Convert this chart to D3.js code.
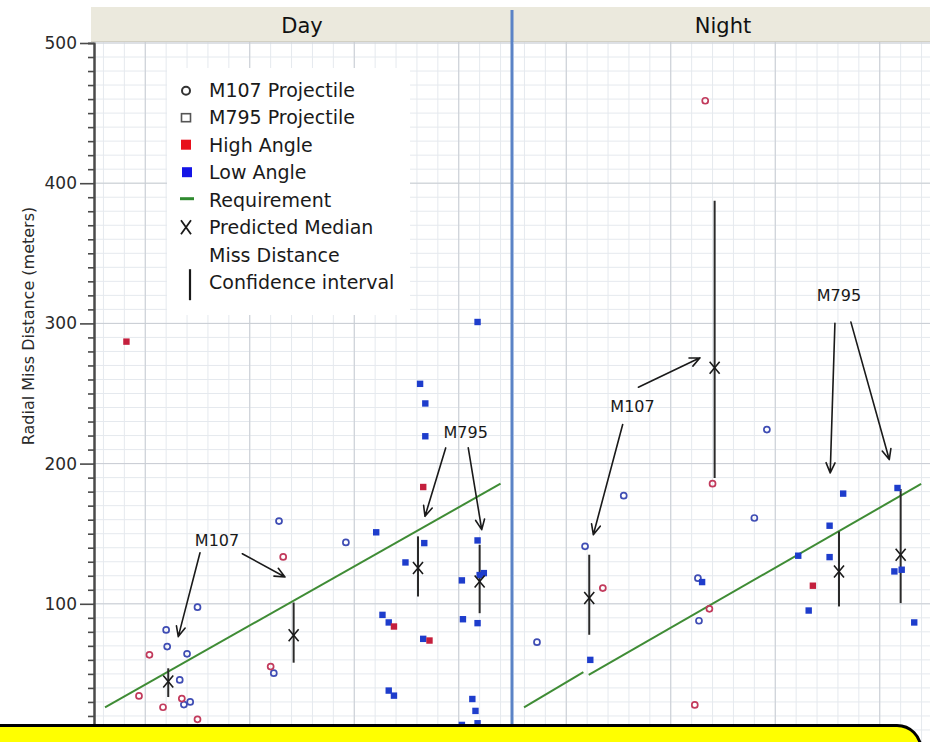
<!DOCTYPE html>
<html>
<head>
<meta charset="utf-8">
<script src="https://cdn.jsdelivr.net/npm/d3@7"></script>
<style>
  body { margin: 0; background: #fff; }
  svg { display: block; font-family: "DejaVu Sans", sans-serif; }
</style>
</head>
<body>
<svg id="chart" width="930" height="742"></svg>
<script>
// ---- data ----------------------------------------------------------------
const panels = ["Day", "Night"];
const yTicks = [100, 200, 300, 400, 500];

// M107 projectile impacts (circles): [position, radial miss distance in m]
const dayM107Low = [[2.28,159],[1.50,97.6],[1.20,81.4],[1.21,69.5],[1.40,64.3],[1.33,45.7],
                    [1.37,28.1],[1.43,30],[2.23,50.5],[2.92,143.8]];
const dayM107High = [[2.32,133.4],[1.04,63.6],[0.94,34.3],[1.17,26.2],[1.35,32.4],[1.50,17.6],[2.20,55.2]];
const nightM107Low = [[2.92,224.3],[1.55,177.1],[2.80,161.2],[1.18,141],[2.26,118.3],[2.27,87.9],[0.72,72.6]];
const nightM107High = [[2.33,458.8],[2.40,185.7],[1.35,111.2],[2.37,96.4],[2.23,27.9]];

// M795 projectile impacts (squares)
const dayM795Low = [[4.18,301],[3.63,256.9],[3.68,242.9],[3.68,219.5],[3.21,151],[3.67,143.3],
                    [3.49,129.5],[4.18,145.2],[4.03,116.7],[4.20,120.5],[4.24,121.9],[3.27,92.1],
                    [3.33,86.7],[3.66,75],[4.04,89],[4.18,86.2],[3.33,38.1],[3.38,34.5],
                    [4.13,32.1],[4.16,23.6],[4.18,14.8],[4.03,13.6]];
const dayM795High = [[0.82,287],[3.66,183.3],[3.38,83.8],[3.72,73.8]];
const nightM795Low = [[2.30,115.5],[1.23,60],[3.65,178.6],[3.52,155.7],[3.22,134.3],[3.52,133.3],
                      [3.32,95.2],[4.17,182.6],[4.14,123.1],[4.21,124.3],[4.33,86.7]];
const nightM795High = [[3.36,112.9]];

// Predicted median miss distance with confidence interval
const predX = [1.22, 2.42, 3.61, 4.20];
const dayMedian = [44.5, 77.6, 125.5, 115.9];
const dayLower  = [33.5, 58, 105.2, 93.3];
const dayUpper  = [54, 100.9, 148.1, 142.1];
const nightMedian = [104.1, 268.3, 123.1, 135];
const nightLower  = [77.9, 189.8, 98.1, 100.5];
const nightUpper  = [135, 387.4, 151.6, 181.9];

// Requirement line segments
const dayRequirement = [[[0.615, 26.2], [4.40, 185.7]]];
const nightRequirement = [[[0.596, 26.2], [1.164, 51.3]], [[1.215, 49.3], [4.396, 185.5]]];

// Call-outs: label anchor and arrows, in data units
const annotations = [
  { panel: "Day", label: "M107", at: [1.687, 140.9],
    arrows: [[[1.524, 136.4], [1.316, 76.6]], [[1.929, 135.7], [2.337, 119.1]]] },
  { panel: "Day", label: "M795", at: [4.066, 218.4],
    arrows: [[[3.875, 211.2], [3.677, 162.4]], [[4.091, 211.2], [4.220, 152.9]]] },
  { panel: "Night", label: "M107", at: [1.634, 236.6],
    arrows: [[[1.540, 227.9], [1.259, 149.3]], [[1.690, 254.5], [2.280, 275.5]]] },
  { panel: "Night", label: "M795", at: [3.61, 315.9],
    arrows: [[[3.571, 300], [3.526, 193.4]], [[3.724, 300.9], [4.091, 202.9]]] }
];

const legendItems = ["M107 Projectile", "M795 Projectile", "High Angle", "Low Angle",
                     "Requirement", "Predicted Median", "Miss Distance", "Confidence interval"];

// ---- styles ----------------------------------------------------------------
const C = {
  lowCircle: "#3f4db4", highCircle: "#c23a5c",
  lowSquare: "#1e3dcc", highSquare: "#c41f3d",
  req: "#3f8c35", ink: "#1e1e1e",
  gridMinor: "#e5e9ee", gridMajor: "#c9cdd3",
  header: "#ebe9dd", separator: "#5b83c6"
};

const svg = d3.select("#chart");
const plotTop = 42, plotBottom = 742;

const y = d3.scaleLinear().domain([0, 500]).range([744, 43]);
const xs = {
  Day: d3.scaleLinear().domain([0.5, 4.5]).range([93, 511]),
  Night: d3.scaleLinear().domain([0.5, 4.5]).range([514, 932])
};

const defs = svg.append("defs");
panels.forEach(p => {
  const [a, b] = xs[p].range();
  defs.append("clipPath").attr("id", "clip-" + p)
    .append("rect").attr("x", a).attr("y", plotTop).attr("width", b - a).attr("height", plotBottom - plotTop);
});

// ---- grid -------------------------------------------------------------------
panels.forEach(p => {
  const x = xs[p];
  const g = svg.append("g").attr("clip-path", `url(#clip-${p})`);
  const [a, b] = x.range();
  g.append("rect").attr("x", a).attr("y", plotTop).attr("width", b - a).attr("height", plotBottom - plotTop).attr("fill", "#fff");
  g.selectAll(".vmin").data(x.ticks(20)).join("line")
    .attr("x1", d => x(d)).attr("x2", d => x(d)).attr("y1", plotTop).attr("y2", plotBottom)
    .attr("stroke", C.gridMinor).attr("stroke-width", 1);
  g.selectAll(".hmin").data(y.ticks(50)).join("line")
    .attr("x1", a).attr("x2", b).attr("y1", d => y(d)).attr("y2", d => y(d))
    .attr("stroke", C.gridMinor).attr("stroke-width", 1);
  g.selectAll(".vmaj").data(x.ticks(4)).join("line")
    .attr("x1", d => x(d)).attr("x2", d => x(d)).attr("y1", plotTop).attr("y2", plotBottom)
    .attr("stroke", C.gridMajor).attr("stroke-width", 1);
  g.selectAll(".hmaj").data(yTicks).join("line")
    .attr("x1", a).attr("x2", b).attr("y1", d => y(d)).attr("y2", d => y(d))
    .attr("stroke", C.gridMajor).attr("stroke-width", 1);
});

// ---- panel headers ------------------------------------------------------------
svg.append("rect").attr("x", 91).attr("y", 7).attr("width", 845).attr("height", 34)
  .attr("fill", C.header);
svg.append("line").attr("x1", 91).attr("x2", 930).attr("y1", 41.5).attr("y2", 41.5)
  .attr("stroke", "#d2d0c4").attr("stroke-width", 1);
panels.forEach(p => {
  const [a, b] = xs[p].range();
  svg.append("text").attr("x", (a + b) / 2).attr("y", 33)
    .attr("text-anchor", "middle").attr("font-size", 21).attr("fill", "#111").text(p);
});

// ---- marks ------------------------------------------------------------------
const groups = {
  Day: { m107: [[dayM107Low, C.lowCircle], [dayM107High, C.highCircle]],
         m795: [[dayM795Low, C.lowSquare], [dayM795High, C.highSquare]],
         median: dayMedian, lower: dayLower, upper: dayUpper, req: dayRequirement },
  Night: { m107: [[nightM107Low, C.lowCircle], [nightM107High, C.highCircle]],
           m795: [[nightM795Low, C.lowSquare], [nightM795High, C.highSquare]],
           median: nightMedian, lower: nightLower, upper: nightUpper, req: nightRequirement }
};

function arrowPath(x0, y0, x1, y1) {
  const ang = Math.atan2(y1 - y0, x1 - x0);
  const len = 11, spread = 0.42;
  const p1 = [x1 - len * Math.cos(ang - spread), y1 - len * Math.sin(ang - spread)];
  const p2 = [x1 - len * Math.cos(ang + spread), y1 - len * Math.sin(ang + spread)];
  return `M${x0},${y0}L${x1},${y1}M${p1[0]},${p1[1]}L${x1},${y1}L${p2[0]},${p2[1]}`;
}

panels.forEach(p => {
  const x = xs[p];
  const G = groups[p];
  const g = svg.append("g").attr("clip-path", `url(#clip-${p})`);

  // requirement
  const line = d3.line().x(d => x(d[0])).y(d => y(d[1]));
  g.selectAll(".req").data(G.req).join("path")
    .attr("d", line).attr("fill", "none").attr("stroke", C.req).attr("stroke-width", 2);

  // confidence intervals
  g.selectAll(".ci").data(predX).join("line")
    .attr("x1", d => x(d)).attr("x2", d => x(d))
    .attr("y1", (d, i) => y(G.upper[i])).attr("y2", (d, i) => y(G.lower[i]))
    .attr("stroke", "#2a2a2a").attr("stroke-width", 2);

  // M107 circles
  G.m107.forEach(([data, col]) => {
    g.selectAll(null).data(data).join("circle")
      .attr("cx", d => x(d[0])).attr("cy", d => y(d[1])).attr("r", 3)
      .attr("fill", "none").attr("stroke", col).attr("stroke-width", 1.7);
  });
  // M795 squares
  G.m795.forEach(([data, col]) => {
    g.selectAll(null).data(data).join("rect")
      .attr("x", d => x(d[0]) - 3.2).attr("y", d => y(d[1]) - 3.2)
      .attr("width", 6.4).attr("height", 6.4).attr("fill", col);
  });

  // predicted medians
  g.selectAll(".med").data(predX).join("path")
    .attr("transform", (d, i) => `translate(${x(d)},${y(G.median[i])})`)
    .attr("d", "M-5,-6L5,6M5,-6L-5,6")
    .attr("stroke", "#1a1a1a").attr("stroke-width", 1.6).attr("fill", "none");

  // call-outs
  annotations.filter(a => a.panel === p).forEach(a => {
    g.append("text").attr("x", x(a.at[0])).attr("y", y(a.at[1]))
      .attr("text-anchor", "middle").attr("font-size", 16).attr("fill", "#1a1a1a").text(a.label);
    a.arrows.forEach(([s, e]) => {
      g.append("path").attr("d", arrowPath(x(s[0]), y(s[1]), x(e[0]), y(e[1])))
        .attr("fill", "none").attr("stroke", "#1a1a1a").attr("stroke-width", 1.6)
        .attr("stroke-linecap", "round").attr("stroke-linejoin", "round");
    });
  });
});

// ---- legend ------------------------------------------------------------------
const lg = svg.append("g");
lg.append("rect").attr("x", 167).attr("y", 68).attr("width", 243).attr("height", 247).attr("fill", "#fff");
const rowY = i => 96.7 + i * 27.5;
lg.selectAll("text").data(legendItems).join("text")
  .attr("x", 209).attr("y", (d, i) => rowY(i))
  .attr("font-size", 19).attr("fill", "#1a1a1a").text(d => d);
const sx = 186;
lg.append("circle").attr("cx", sx).attr("cy", rowY(0) - 6).attr("r", 4)
  .attr("fill", "none").attr("stroke", "#333").attr("stroke-width", 2);
lg.append("rect").attr("x", sx - 4.5).attr("y", rowY(1) - 10.5).attr("width", 9).attr("height", 8)
  .attr("fill", "none").attr("stroke", "#555").attr("stroke-width", 1.6);
lg.append("rect").attr("x", sx - 5).attr("y", rowY(2) - 12).attr("width", 10).attr("height", 10)
  .attr("fill", "#e8101c");
lg.append("rect").attr("x", sx - 4).attr("y", rowY(3) - 12).attr("width", 10).attr("height", 10)
  .attr("fill", "#1414e6");
lg.append("line").attr("x1", sx - 6).attr("x2", sx + 8).attr("y1", rowY(4) - 8).attr("y2", rowY(4) - 8)
  .attr("stroke", "#2f8a2f").attr("stroke-width", 3);
lg.append("path").attr("transform", `translate(${sx},${rowY(5) - 7})`)
  .attr("d", "M-5,-7L5,7M5,-7L-5,7").attr("stroke", "#1a1a1a").attr("stroke-width", 1.8).attr("fill", "none");
lg.append("line").attr("x1", sx + 4).attr("x2", sx + 4).attr("y1", rowY(7) - 20).attr("y2", rowY(7) + 11)
  .attr("stroke", "#1a1a1a").attr("stroke-width", 2.2);

// ---- y axis -----------------------------------------------------------------
const axisX = 94;
const minor = svg.append("g").attr("transform", `translate(${axisX},0)`)
  .call(d3.axisLeft(y).tickValues(y.ticks(50).filter(v => v % 100 !== 0)).tickSize(6).tickFormat(""));
const major = svg.append("g").attr("transform", `translate(${axisX},0)`)
  .call(d3.axisLeft(y).tickValues(yTicks).tickSize(14).tickSizeOuter(0).tickPadding(3));
[minor, major].forEach(a => {
  a.select(".domain").attr("stroke", "#4a4a4a").attr("stroke-width", 2);
  a.selectAll(".tick line").attr("stroke", "#4a4a4a").attr("stroke-width", 1.6);
});
major.selectAll(".tick text").attr("font-size", 17).attr("fill", "#2a2a2a")
  .attr("font-family", "DejaVu Sans, sans-serif");

svg.append("text").attr("transform", "translate(33.5,326) rotate(-90)")
  .attr("text-anchor", "middle").attr("font-size", 16).attr("fill", "#2a2a2a")
  .text("Radial Miss Distance (meters)");

// ---- panel separator ------------------------------------------------------------
svg.append("line").attr("x1", 512).attr("x2", 512).attr("y1", 10).attr("y2", 742)
  .attr("stroke", C.separator).attr("stroke-width", 3);

// ---- note box along the bottom edge ---------------------------------------------
svg.append("path")
  .attr("d", "M-10,725.5H897A24,24 0 0 1 921,749.5V770H-10Z")
  .attr("fill", "#ffff00").attr("stroke", "#000").attr("stroke-width", 3);
</script>
</body>
</html>
